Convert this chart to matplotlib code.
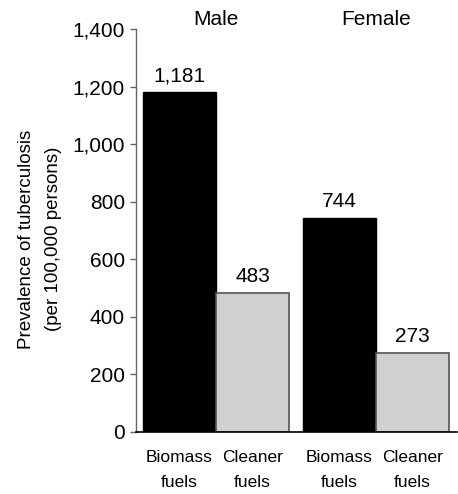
import matplotlib
matplotlib.use("Agg")
from matplotlib import pyplot as plt
import numpy as np

plt.rcParams['font.family'] = ['Liberation Sans', 'DejaVu Sans']

# data
groups = ["Male", "Female"]
fuels = ["Biomass\nfuels", "Cleaner\nfuels"]
biomass = [1181, 744]
cleaner = [483, 273]
yticks = [0, 200, 400, 600, 800, 1000, 1200, 1400]

fig = plt.figure(figsize=(4.58, 4.94), dpi=100)
ax = fig.add_axes([0.297, 0.1265, 0.701, 0.8145])

gap = 0.19  # space between the two groups
x_bio = np.array([0, 2 + gap])
x_cln = x_bio + 1

ax.bar(x_bio, biomass, width=1.0, color="black", edgecolor="black", linewidth=1)
ax.bar(x_cln, cleaner, width=1.0, color="#d0d0d0", edgecolor="#555555", linewidth=1.2)

# value labels above bars
for xs, vals in ((x_bio, biomass), (x_cln, cleaner)):
    for x, v in zip(xs, vals):
        ax.annotate(f"{v:,}", (x, v), xytext=(0, 5), textcoords="offset points",
                    ha="center", va="bottom", fontsize=15)

# group titles
for xb, g in zip(x_bio, groups):
    ax.text(xb + 0.5, 1.0, g, transform=ax.get_xaxis_transform(),
            ha="center", va="bottom", fontsize=15)

ax.spines["top"].set_visible(False)
ax.spines["right"].set_visible(False)
ax.spines["left"].set_color("#666666")
ax.spines["left"].set_linewidth(1)
ax.spines["bottom"].set_linewidth(1.2)

ax.set_xlim(-0.595, 3 + gap + 0.5 + 0.11)
ax.set_ylim(0, 1400)
ax.set_yticks(yticks)
ax.set_yticklabels([f"{t:,}" for t in yticks], fontsize=15)
ax.set_xticks([x_bio[0], x_cln[0], x_bio[1], x_cln[1]])
ax.set_xticklabels(fuels * 2, fontsize=12.5, linespacing=1.85)
ax.tick_params(axis="x", length=0, pad=13)
ax.tick_params(axis="y", length=4, width=1, color="#666666", pad=4)

fig.text(0.087, 0.516, "Prevalence of tuberculosis\n(per 100,000 persons)",
         rotation=90, ha="center", va="center", fontsize=13.5, linespacing=1.8)

fig.savefig("out.png", dpi=100)
